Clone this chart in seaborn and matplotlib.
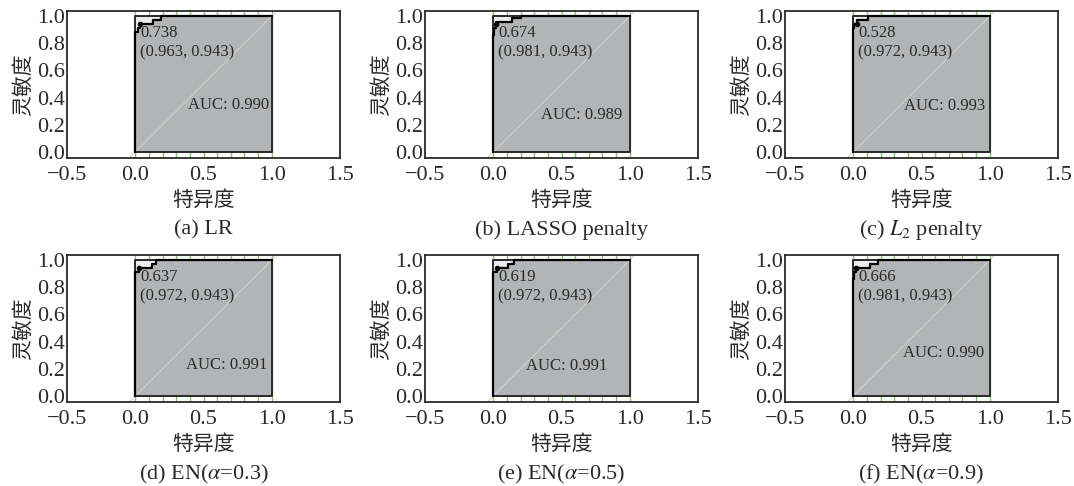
import matplotlib
matplotlib.use("Agg")
import matplotlib.pyplot as plt
import seaborn as sns
import pandas as pd

# ---- data (x = 1 - specificity, y = sensitivity) ----
captions = ["(a) LR", "(b) LASSO penalty", "(c) $L_2$ penalty",
            "(d) EN($\\alpha$=0.3)", "(e) EN($\\alpha$=0.5)", "(f) EN($\\alpha$=0.9)"]

roc_x_a = [0, 0, 0.018, 0.018, 0.037, 0.037, 0.13, 0.13, 0.185, 0.185, 1]
roc_y_a = [0, 0.886, 0.886, 0.914, 0.914, 0.943, 0.943, 0.971, 0.971, 1, 1]
roc_x_b = [0, 0, 0.009, 0.009, 0.019, 0.019, 0.135, 0.135, 0.2, 0.2, 1]
roc_y_b = [0, 0.857, 0.857, 0.914, 0.914, 0.957, 0.957, 0.985, 0.985, 1, 1]
roc_x_c = [0, 0, 0.009, 0.009, 0.028, 0.028, 0.11, 0.11, 1]
roc_y_c = [0, 0.914, 0.914, 0.943, 0.943, 0.971, 0.971, 1, 1]
roc_x_d = [0, 0, 0.028, 0.028, 0.12, 0.12, 0.155, 0.155, 1]
roc_y_d = [0, 0.914, 0.914, 0.943, 0.943, 0.971, 0.971, 1, 1]
roc_x_e = [0, 0, 0.028, 0.028, 0.11, 0.11, 0.155, 0.155, 1]
roc_y_e = [0, 0.914, 0.914, 0.943, 0.943, 0.971, 0.971, 1, 1]
roc_x_f = [0, 0, 0.009, 0.009, 0.019, 0.019, 0.125, 0.125, 0.18, 0.18, 1]
roc_y_f = [0, 0.857, 0.857, 0.914, 0.914, 0.943, 0.943, 0.971, 0.971, 1, 1]

roc_x = [roc_x_a, roc_x_b, roc_x_c, roc_x_d, roc_x_e, roc_x_f]
roc_y = [roc_y_a, roc_y_b, roc_y_c, roc_y_d, roc_y_e, roc_y_f]

thresholds = [0.738, 0.674, 0.528, 0.637, 0.619, 0.666]
best_spec = [0.963, 0.981, 0.972, 0.972, 0.972, 0.981]
best_sens = [0.943, 0.943, 0.943, 0.943, 0.943, 0.943]
auc_values = [0.990, 0.989, 0.993, 0.991, 0.991, 0.990]

grid_x = [0.0, 0.1, 0.2, 0.3, 0.4, 0.5, 0.6, 0.7, 0.8, 0.9, 1.0]

# ---- style ----
sns.set_theme(style="white")
plt.rcParams["font.family"] = ["Liberation Serif", "Noto Sans CJK SC"]
plt.rcParams["mathtext.fontset"] = "stix"
plt.rcParams["axes.unicode_minus"] = True

W, H = 1074, 486
fig = plt.figure(figsize=(W / 100, H / 100), dpi=100)

col_left = [67, 425, 785]
row_top = [11, 255]
ax_w, ax_h = 273, 147
# AUC label centre (data coords), per panel
auc_pos = [(0.68, 0.345), (0.65, 0.27), (0.67, 0.34),
           (0.67, 0.23), (0.54, 0.22), (0.66, 0.32)]

dark = "#2a2a2a"
for i in range(6):
    r, c = divmod(i, 3)
    left = col_left[c] / W
    bottom = 1 - (row_top[r] + ax_h) / H
    ax = fig.add_axes([left, bottom, ax_w / W, ax_h / H])
    ax.set_xlim(-0.5, 1.5)
    ax.set_ylim(-0.044, 1.037)

    # green grid (only shows outside the polygons)
    for gx in grid_x:
        ax.axvline(gx, color="#86c46a", lw=1.0, zorder=0.5)

    # max AUC polygon
    ax.fill([0, 1, 1, 0], [0, 0, 1, 1], color="#ececec", zorder=1, lw=0)
    # AUC polygon
    px = roc_x[i] + [1, 0]
    py = roc_y[i] + [0, 0]
    ax.fill(px, py, color="#b2b4b6", zorder=1.5, lw=0)
    # diagonal
    ax.axline((0, 0), (1, 1), color="#d0d0d0", lw=0.8, zorder=2.5)
    # rectangle border
    ax.plot([0, 1, 1, 0, 0], [0, 0, 1, 1, 0], color=dark, lw=1.4, zorder=3)

    df = pd.DataFrame({"x": roc_x[i], "y": roc_y[i]})
    sns.lineplot(data=df, x="x", y="y", sort=False, estimator=None,
                 color="black", lw=1.6, ax=ax, zorder=4)
    ax.plot([1 - best_spec[i]], [best_sens[i]], "o", color="black", ms=3, zorder=5)

    ax.text(0.035, 0.875, f"{thresholds[i]:.3f}", fontsize=12, color=dark,
            va="center", ha="left", zorder=6)
    ax.text(0.035, 0.73, f"({best_spec[i]:.3f}, {best_sens[i]:.3f})", fontsize=12,
            color=dark, va="center", ha="left", zorder=6)
    ax.text(auc_pos[i][0], auc_pos[i][1], f"AUC: {auc_values[i]:.3f}", fontsize=12,
            color=dark, va="center", ha="center", zorder=6)

    ax.set_xticks([-0.5, 0.0, 0.5, 1.0, 1.5])
    ax.set_yticks([0.0, 0.2, 0.4, 0.6, 0.8, 1.0])
    ax.set_xticklabels(["\u22120.5", "0.0", "0.5", "1.0", "1.5"])
    ax.set_yticklabels(["0.0", "0.2", "0.4", "0.6", "0.8", "1.0"])
    ax.tick_params(direction="in", length=4, width=1, colors=dark,
                   labelsize=16, pad=1.5)
    ax.tick_params(axis="x", pad=6)
    for s in ax.spines.values():
        s.set_color(dark)
        s.set_linewidth(1.3)
    ax.set_xlabel("特异度", fontsize=15, color=dark, labelpad=4)
    ax.set_ylabel("灵敏度", fontsize=15, color=dark, labelpad=2)

    cx = (col_left[c] + ax_w / 2) / W
    cy = 1 - (row_top[r] + 219) / H
    fig.text(cx, cy, captions[i], fontsize=16, color=dark, ha="center", va="center")

fig.savefig("out.png", dpi=100)
